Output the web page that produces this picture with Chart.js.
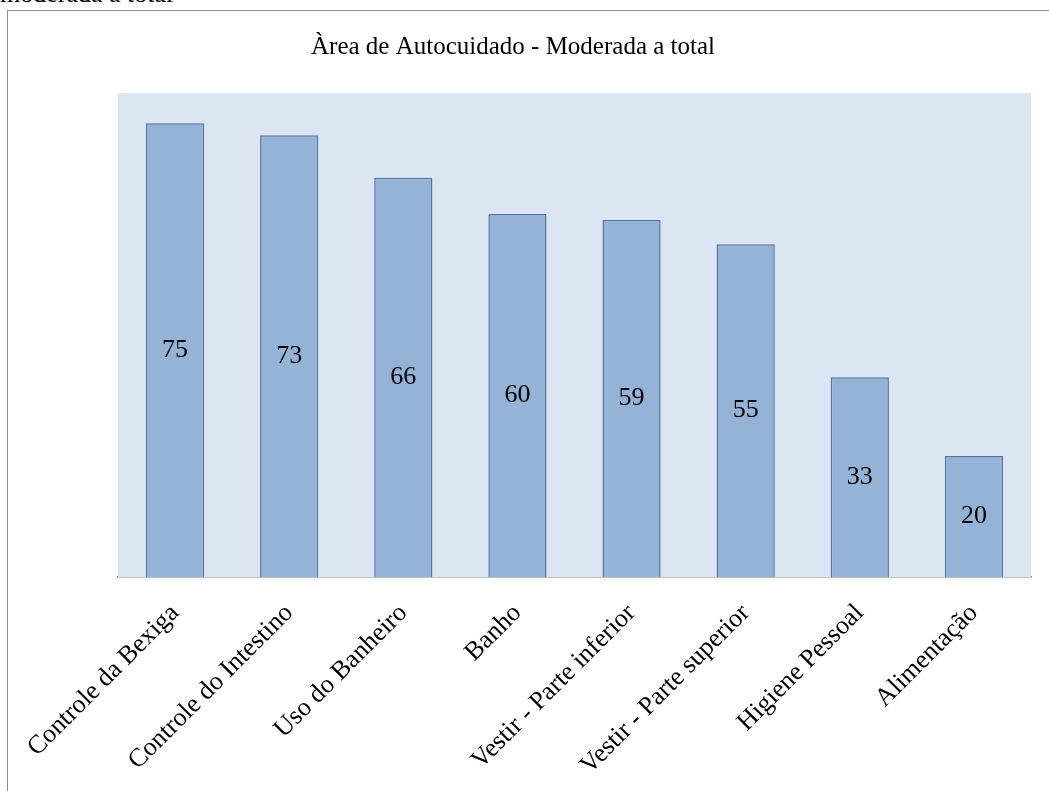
<!DOCTYPE html>
<html>
<head>
<meta charset="utf-8">
<script src="https://cdn.jsdelivr.net/npm/chart.js@4.4.1/dist/chart.umd.min.js"></script>
<style>
  html, body { margin: 0; padding: 0; background: #fff; overflow: hidden; }
  body { width: 1049px; height: 791px; position: relative; }
  #cut { position: absolute; left: 0; top: -19px; font: 26px "Liberation Serif", serif; color: #000; line-height: 26px; }
  #box { position: absolute; left: 7px; top: 10px; width: 1060px; height: 800px;
         border-left: 1px solid #8c8c8c; border-top: 1px solid #8c8c8c; }
  #wrap { position: absolute; left: 8px; top: 11px; width: 1041px; height: 780px; }
</style>
</head>
<body>
<div id="cut">moderada a total</div>
<div id="box"></div>
<div id="wrap"><canvas id="barChart"></canvas></div>
<script>
// categories and values
const categories = ['Controle da Bexiga', 'Controle do Intestino', 'Uso do Banheiro', 'Banho',
                    'Vestir - Parte inferior', 'Vestir - Parte superior', 'Higiene Pessoal', 'Alimentação'];
const values = [75, 73, 66, 60, 59, 55, 33, 20];
const chartTitle = 'Àrea de Autocuidado - Moderada a total';

const serif = '"Liberation Serif", "Times New Roman", serif';

// light blue plot background
const plotBackground = {
    id: 'plotBackground',
    beforeDatasetsDraw(chart) {
        const a = chart.chartArea;
        const c = chart.ctx;
        c.save();
        c.fillStyle = '#dce6f2';
        c.fillRect(a.left, a.top, a.right - a.left, a.bottom - a.top);
        c.restore();
    }
};

// title, centred on the whole box rather than on the plot
const boxTitle = {
    id: 'boxTitle',
    afterDraw(chart) {
        const c = chart.ctx;
        c.save();
        c.font = '25px ' + serif;
        c.fillStyle = '#000';
        c.textAlign = 'center';
        c.textBaseline = 'alphabetic';
        c.fillText(chartTitle, 505, 43);
        c.restore();
    }
};

// value labels in the middle of each bar
const barValues = {
    id: 'barValues',
    afterDatasetsDraw(chart) {
        const c = chart.ctx;
        const meta = chart.getDatasetMeta(0);
        c.save();
        c.font = '26px ' + serif;
        c.fillStyle = '#000';
        c.textAlign = 'center';
        c.textBaseline = 'middle';
        meta.data.forEach((bar, i) => {
            c.fillText(values[i], bar.x, (bar.y + bar.base) / 2);
        });
        c.restore();
    }
};

const ctx = document.getElementById('barChart').getContext('2d');
const barChart = new Chart(ctx, {
    type: 'bar',
    data: {
        labels: categories,
        datasets: [{
            data: values,
            backgroundColor: '#95b3d7',
            borderColor: '#52749f',
            borderWidth: 1.5,
            borderSkipped: 'bottom',
            barPercentage: 0.51,
            categoryPercentage: 1
        }]
    },
    options: {
        responsive: true,
        maintainAspectRatio: false,
        animation: false,
        layout: { padding: { left: 110, right: 18, top: 82, bottom: 0 } },
        plugins: {
            legend: { display: false },
            tooltip: { enabled: false },
            title: { display: false }
        },
        scales: {
            x: {
                grid: { display: false, drawTicks: false },
                border: { color: '#868686', width: 1.5 },
                ticks: {
                    color: '#000',
                    font: { family: serif, size: 26 },
                    minRotation: 45,
                    maxRotation: 45,
                    padding: 21
                },
                afterFit(scale) {
                    scale.height = 214;
                    scale.paddingLeft = 0;
                    scale.paddingRight = 0;
                }
            },
            y: {
                display: false,
                min: 0,
                max: 80
            }
        }
    },
    plugins: [plotBackground, barValues, boxTitle]
});
</script>
</body>
</html>
